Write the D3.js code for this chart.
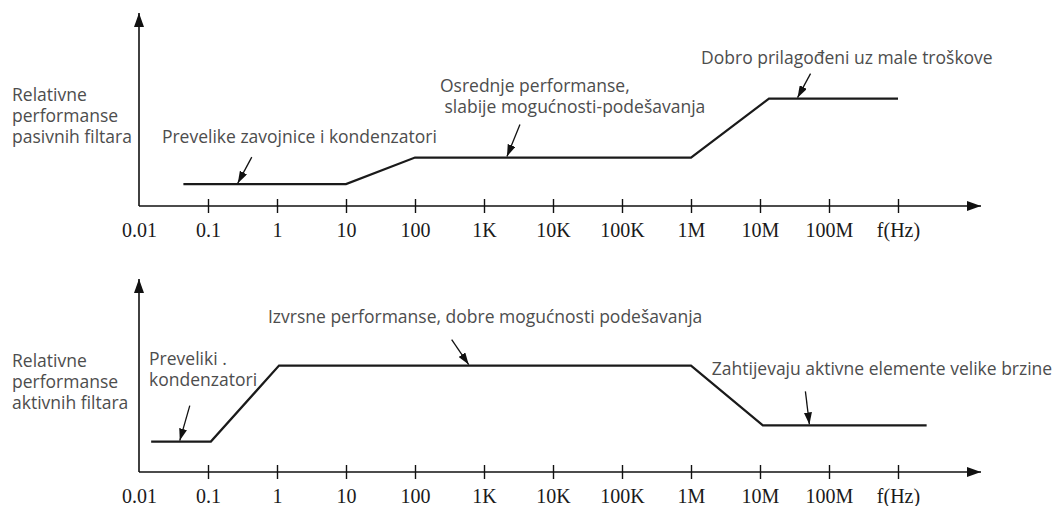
<!DOCTYPE html>
<html>
<head>
<meta charset="utf-8">
<script src="https://cdn.jsdelivr.net/npm/d3@7"></script>
<style>
  body { margin: 0; background: #fff; }
  .note { font-family: "Open Sans", sans-serif; font-size: 17.5px; fill: #4d4d4d; }
  .tick-label { font-family: "Liberation Serif", serif; font-size: 20px; fill: #1a1a1a; }
</style>
</head>
<body>
<svg id="chart" width="1060" height="506"></svg>
<script>
// tick values on the frequency axis and what is printed under them
const tickValues = [0.01, 0.1, 1, 10, 100, 1e3, 1e4, 1e5, 1e6, 1e7, 1e8, 1e9];
const tickLabels = ["0.01", "0.1", "1", "10", "100", "1K", "10K", "100K", "1M", "10M", "100M", "f(Hz)"];

// passive filters curve
const passiveFreq = [0.044, 10, 100, 1e6, 1.35e7, 1e9];
const passivePerf = [1.15, 1.15, 2.55, 2.55, 5.65, 5.65];

// active filters curve
const activeFreq = [0.015, 0.11, 1.07, 1e6, 1.1e7, 2.6e9];
const activePerf = [1.6, 1.6, 5.6, 5.6, 2.45, 2.45];

// annotations: text anchor (freq, perf), arrow target (freq, perf)
const passiveNotes = [
    { lines: ["Prevelike zavojnice i kondenzatori"], tf: 0.0215, tp: 3.3, af: 0.27, ap: 1.15, dx: 14, dy: -27 },
    { lines: ["Osrednje performanse,", " slabije mogućnosti-podešavanja"], tf: 230, tp: 6.0, af: 2150, ap: 2.55, dx: 13, dy: -33 },
    { lines: ["Dobro prilagođeni uz male troškove"], tf: 1.4e6, tp: 7.47, af: 3.5e7, ap: 5.65, dx: 13, dy: -25 }
];
const activeNotes = [
    { lines: ["Preveliki .", "kondenzatori"], tf: 0.014, tp: 5.63, af: 0.039, ap: 1.6, dx: 10, dy: -36 },
    { lines: ["Izvrsne performanse, dobre mogućnosti podešavanja"], tf: 0.74, tp: 7.84, af: 600, ap: 5.6, dx: -17, dy: -26 },
    { lines: ["Zahtijevaju aktivne elemente velike brzine"], tf: 2e6, tp: 5.1, af: 5.2e7, ap: 2.45, dx: -4, dy: -34 }
];

const passiveTitle = ["Relativne", "performanse", "pasivnih filtara"];
const activeTitle = ["Relativne", "performanse", "aktivnih filtara"];

const svg = d3.select("#chart");

// arrowheads
const defs = svg.append("defs");
defs.append("marker")
    .attr("id", "axisArrow")
    .attr("viewBox", "0 0 14 10")
    .attr("refX", 14)
    .attr("refY", 5)
    .attr("markerWidth", 14)
    .attr("markerHeight", 10)
    .attr("markerUnits", "userSpaceOnUse")
    .attr("orient", "auto")
    .append("path")
    .attr("d", "M0,0 L14,5 L0,10 Z")
    .attr("fill", "#111");

defs.append("marker")
    .attr("id", "noteArrow")
    .attr("viewBox", "0 0 12 8")
    .attr("refX", 12)
    .attr("refY", 4)
    .attr("markerWidth", 12)
    .attr("markerHeight", 8)
    .attr("markerUnits", "userSpaceOnUse")
    .attr("orient", "auto")
    .append("path")
    .attr("d", "M0,0 L12,4 L0,8 Z")
    .attr("fill", "#111");

const x = d3.scaleLog()
    .domain([0.01, 1e9])
    .range([139, 898]);

function drawPanel(axisY, freq, perf, notes, title) {
    const g = svg.append("g");

    const y = d3.scaleLinear()
        .domain([0, 10])
        .range([axisY, axisY - 190]);

    // y axis line with arrow
    g.append("line")
        .attr("x1", x(0.01)).attr("y1", axisY)
        .attr("x2", x(0.01)).attr("y2", axisY - 193)
        .attr("stroke", "#111")
        .attr("stroke-width", 1.6)
        .attr("marker-end", "url(#axisArrow)");

    // x axis line with arrow
    g.append("line")
        .attr("x1", x(0.01)).attr("y1", axisY)
        .attr("x2", 981).attr("y2", axisY)
        .attr("stroke", "#111")
        .attr("stroke-width", 1.6)
        .attr("marker-end", "url(#axisArrow)");

    // ticks and labels
    const xAxis = d3.axisBottom(x)
        .tickValues(tickValues)
        .tickSize(7)
        .tickFormat((d, i) => tickLabels[i]);

    const axisG = g.append("g")
        .attr("transform", "translate(0," + axisY + ")")
        .call(xAxis);
    axisG.select(".domain").remove();
    axisG.selectAll(".tick line")
        .attr("y1", -7)
        .attr("stroke", "#111")
        .attr("stroke-width", 1.4)
        .filter((d, i) => i === 0).remove();
    axisG.selectAll(".tick text")
        .attr("class", "tick-label")
        .attr("y", 17)
        .attr("font-size", null)
        .attr("font-family", null);
    axisG.attr("font-size", null).attr("font-family", null);

    // curve
    const pts = freq.map((f, i) => [f, perf[i]]);
    g.append("path")
        .datum(pts)
        .attr("d", d3.line().x(d => x(d[0])).y(d => y(d[1])))
        .attr("fill", "none")
        .attr("stroke", "#1a1a1a")
        .attr("stroke-width", 2.2);

    // annotations
    notes.forEach(n => {
        const t = g.append("text")
            .attr("class", "note")
            .attr("x", x(n.tf))
            .attr("y", y(n.tp));
        n.lines.forEach((l, i) => {
            t.append("tspan")
                .attr("x", x(n.tf))
                .attr("dy", i === 0 ? 0 : 21)
                .style("white-space", "pre")
                .text(l);
        });
        const ax = x(n.af), ay = y(n.ap);
        g.append("line")
            .attr("x1", ax + n.dx).attr("y1", ay + n.dy)
            .attr("x2", ax).attr("y2", ay - 1)
            .attr("stroke", "#111")
            .attr("stroke-width", 1.3)
            .attr("marker-end", "url(#noteArrow)");
    });

    // y title
    const tt = g.append("text")
        .attr("class", "note")
        .attr("x", 12)
        .attr("y", axisY - 105);
    title.forEach((l, i) => {
        tt.append("tspan")
            .attr("x", 12)
            .attr("dy", i === 0 ? 0 : 21)
            .text(l);
    });
}

drawPanel(206, passiveFreq, passivePerf, passiveNotes, passiveTitle);
drawPanel(472, activeFreq, activePerf, activeNotes, activeTitle);
</script>
</body>
</html>
